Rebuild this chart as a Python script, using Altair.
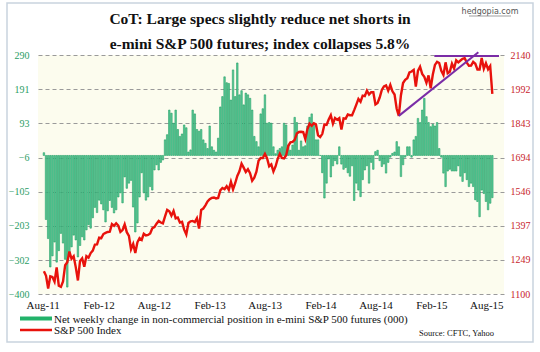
import altair as alt
import pandas as pd

# ---- data (weekly) ----
week_start = "2011-08-05"
n_weeks = 212

cot_change = [
    8, -185, -240, -322, -290, -250, -308, -275, -225, -253,
    -300, -380, -290, -264, -230, -244, -293, -260, -235, -244,
    -215, -200, -210, -180, -150, -165, -129, -140, -157, -192,
    -160, -130, -150, -166, -157, -120, -108, -137, -62, -95,
    -80, -72, -149, -221, -195, -120, -50, -108, -129, -120,
    -90, -100, -42, -27, -42, -20, -13,
    45, 60, 131, 122, 93, 131, 75, 55, 62, 88,
    80, 10, 16, 131, 120, 75, 70, 75, 45, 35,
    20, 85, 25, 15, 10, 50, 140, 170, 227, 210,
    208, 160, 247, 170, 267, 175, 187, 146, 180, 175,
    165, 131, 55, 40, 25, 120, 135, 175, 93, 95,
    93, 25, 5, 15, 20, 25, 93, 88, 30, 15,
    30, 110, 95, 15, 42, 25, 28, 85, 110, 120,
    93, 45, 45, 0,
    -50, -123, -80, -10, -62, -30, -15, -25, 25, -25,
    -40, -35, -50, -60, -30, -130, -80, -100, -119, -70,
    -42, -30, -80, -20, -40, 11, 15, -15, -32, -25,
    -51, -20, -5, 6, 10, 40, 25, -61, -27, -5,
    25, 25, -5, 45, 55, 107, 95, 131, 165, 112,
    95, 83, 90, 85, 95, 20, -5, -51, -90, -45,
    -40, -45, -45, -45, -30, -60, -75, -50, -70, -90,
    -80, -90, -128, -133, -177, -100, -110, -133, -157, -138,
    -122,
]

spx = [
    # 2011
    1199, 1179, 1124, 1177, 1174, 1154, 1216, 1136, 1131, 1155, 1225, 1238,
    1285, 1253, 1264, 1216, 1159, 1244, 1255, 1219, 1265, 1258,
    # 2012
    1278, 1289, 1315, 1316, 1345, 1343, 1361, 1366, 1370, 1371, 1404, 1397,
    1408, 1398, 1370, 1378, 1403, 1369, 1353, 1295, 1318, 1278, 1325, 1343,
    1335, 1362, 1355, 1357, 1363, 1386, 1391, 1406, 1418, 1411, 1407, 1438,
    1466, 1460, 1441, 1461, 1429, 1433, 1411, 1414, 1380, 1359, 1409, 1416,
    1418, 1413, 1430, 1385,
    # 2013
    1466, 1472, 1486, 1503, 1513, 1518, 1520, 1516, 1518, 1551, 1561, 1556,
    1569, 1553, 1588, 1555, 1582, 1614, 1634, 1667, 1650, 1631, 1643, 1626,
    1593, 1606, 1632, 1680, 1692, 1692, 1710, 1691, 1656, 1664, 1633, 1655,
    1688, 1710, 1692, 1690, 1704, 1745, 1760, 1762, 1771, 1798, 1805, 1806,
    1805, 1775, 1818, 1841,
    # 2014
    1832, 1843, 1838, 1790, 1783, 1797, 1838, 1836, 1859, 1878, 1841, 1866,
    1858, 1865, 1816, 1864, 1863, 1881, 1878, 1878, 1900, 1924, 1949, 1937,
    1963, 1961, 1985, 1968, 1978, 1978, 1925, 1931, 1955, 1988, 2003, 2008,
    1985, 2010, 1982, 1968, 1906, 1875, 1965, 2018, 2032, 2039, 2064, 2068,
    2075, 2003, 2071, 2089,
    # 2015
    2058, 2045, 2019, 2051, 1995, 2055, 2097, 2110, 2105, 2071, 2053, 2108,
    2061, 2067, 2102, 2081, 2117, 2108, 2116, 2123, 2126, 2107, 2093, 2094,
    2110, 2102, 2077, 2077, 2127, 2080, 2104, 2078, 2092, 1971,
]

# purple trend lines (segment id, date, index level)
trend_seg = ["up", "up", "top", "top"]
trend_date = ["2014-10-17", "2015-07-06", "2015-02-11", "2015-09-12"]
trend_val = [1875, 2152, 2136, 2136]

left_ticks = [-400, -302, -203, -105, -6, 93, 191, 290]
right_ticks = [1100, 1249, 1397, 1546, 1694, 1843, 1992, 2140]
x_tick_dates = [(2011, 8), (2012, 2), (2012, 8), (2013, 2), (2013, 8),
                (2014, 2), (2014, 8), (2015, 2), (2015, 8)]

title_lines = ["CoT:  Large specs slightly reduce net shorts in",
               "e-mini  S&P 500 futures; index  collapses 5.8%"]
legend_cot = "Net weekly change in non-commercial position in e-mini S&P 500 futures (000)"
legend_spx = "S&P 500 Index"
source_txt = "Source: CFTC, Yahoo"
site_txt = "hedgopia.com"

# ---- tables ----
dates = pd.date_range(week_start, periods=n_weeks, freq="7D").strftime("%Y-%m-%d")
df = pd.DataFrame({"date": dates, "cot": cot_change, "spx": spx})
tdf = pd.DataFrame({"seg": trend_seg, "date": trend_date, "val": trend_val})
one = pd.DataFrame({"k": [0]})

GREEN = "#5ecd9c"
GREEN_DARK = "#18985c"
RED = "#e8120c"
PURPLE = "#7a2ca6"
SERIF = "Liberation Serif"

xscale = alt.Scale(type="utc",
                   domain=[alt.DateTime(year=2011, month=8, date=2, utc=True),
                           alt.DateTime(year=2015, month=9, date=12, utc=True)])
xaxis = alt.Axis(values=[alt.DateTime(year=y, month=m, date=1, utc=True) for y, m in x_tick_dates],
                 format="%b-%y", labelFont=SERIF, labelFontSize=11, labelColor="#111",
                 domain=False, ticks=False, grid=False, labelPadding=5, title=None)
X = alt.X("date:T", scale=xscale, axis=xaxis)

left_scale = alt.Scale(domain=[-400, 290], nice=False, zero=False)
right_scale = alt.Scale(domain=[1100, 2140], nice=False, zero=False)

bars = alt.Chart(df).mark_bar(size=1.5, color=GREEN, stroke=GREEN_DARK, strokeWidth=0.55).encode(
    x=X,
    y=alt.Y("cot:Q", scale=left_scale,
            axis=alt.Axis(orient="left", values=left_ticks, labelColor="#2a9d65",
                          labelFont=SERIF, labelFontSize=10, grid=True, gridDash=[4, 3],
                          gridColor="#9a9a9a", gridWidth=1, domain=False, ticks=False,
                          labelPadding=9, title=None, format="d")),
    y2=alt.datum(0),
)

line = alt.Chart(df).mark_line(color=RED, strokeWidth=2.4).encode(
    x=X,
    y=alt.Y("spx:Q", scale=right_scale,
            axis=alt.Axis(orient="right", values=right_ticks, labelColor="#c8232c",
                          labelFont=SERIF, labelFontSize=10, grid=False, domain=False,
                          ticks=False, labelPadding=6, title=None, format="d")),
)

trend = alt.Chart(tdf).mark_line(color=PURPLE, strokeWidth=2).encode(
    x=X,
    y=alt.Y("val:Q", scale=right_scale, axis=None),
    detail="seg:N",
)

def txt(s, x, y, size, **kw):
    return alt.Chart(one).mark_text(fontSize=size, **kw).encode(
        x=alt.value(x), y=alt.value(y), text=alt.value(s))

t1 = txt(title_lines[0], 222, -31, 15.5, font=SERIF, fontWeight="bold", align="center",
         baseline="alphabetic", color="#111")
t2 = txt(title_lines[1], 222, -6, 15.5, font=SERIF, fontWeight="bold", align="center",
         baseline="alphabetic", color="#111")
site = txt(site_txt, 452, -41, 8, font="DejaVu Sans", align="center", baseline="alphabetic",
           color="#555")
site_ul = alt.Chart(one).mark_rule(color="#777", strokeWidth=0.7).encode(
    x=alt.value(431), x2=alt.value(473), y=alt.value(-39))
leg1_sw = alt.Chart(one).mark_rule(color="#22b26a", strokeWidth=4).encode(
    x=alt.value(-18), x2=alt.value(14), y=alt.value(263.5))
leg2_sw = alt.Chart(one).mark_rule(color=RED, strokeWidth=2.5).encode(
    x=alt.value(-18), x2=alt.value(14), y=alt.value(275))
leg1 = txt(legend_cot, 16, 267.5, 11, font=SERIF, align="left", baseline="alphabetic", color="#111")
leg2 = txt(legend_spx, 16, 278.5, 11, font=SERIF, align="left", baseline="alphabetic", color="#111")
src = txt(source_txt, 456, 281, 8.5, font=SERIF, align="right", baseline="alphabetic", color="#111")
border = alt.Chart(one).mark_rect(fillOpacity=0, stroke="#c9d3de", strokeWidth=1.5).encode(
    x=alt.value(-31), x2=alt.value(495), y=alt.value(-52), y2=alt.value(287))

chart = alt.layer(
    bars, line, trend, t1, t2, site, site_ul, leg1_sw, leg2_sw, leg1, leg2, src, border
).resolve_scale(y="independent").properties(
    width=466, height=239,
    padding={"left": 38, "top": 55, "right": 36, "bottom": 58},
    autosize=alt.AutoSizeParams(type="none"),
    background="white",
).configure_view(fill="#fcfcee", strokeWidth=0)

chart.save("out.html", embed_options={"renderer": "svg", "actions": False})
